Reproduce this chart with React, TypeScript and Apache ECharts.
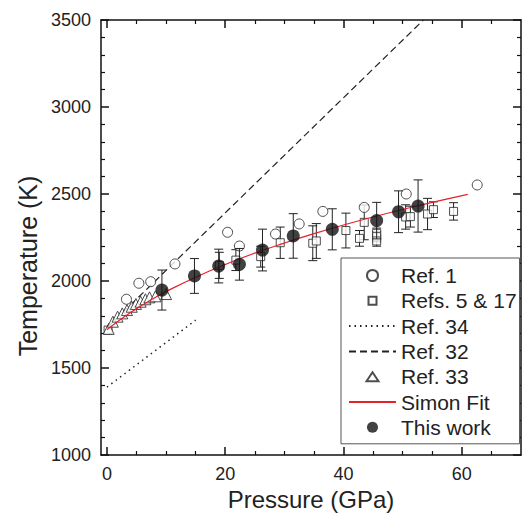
import React, { useEffect, useRef } from "react";
import * as echarts from "echarts";

const FONT = "'Liberation Sans', Arial, Helvetica, sans-serif";

// X ticks
const xMajorTicks = [0, 20, 40, 60];
const xMinorTicks = [5, 10, 15, 25, 30, 35, 45, 50, 55, 65];

// Ref. 1 (open circles)
const ref1P = [3.3, 5.4, 7.4, 11.5, 20.4, 22.4, 28.5, 32.5, 36.5, 43.5, 50.6, 62.6];
const ref1T = [1895, 1987, 1996, 2098, 2280, 2201, 2270, 2328, 2400, 2423, 2500, 2552];

// Refs. 5 & 17 (open squares with error bars)
const refs517P = [0.2, 19.0, 21.8, 26.0, 29.3, 34.8, 35.4, 40.4, 42.7, 43.5, 45.6, 45.6, 45.6, 50.5, 51.3, 54.2, 55.2, 58.6];
const refs517T = [1718, 2090, 2120, 2140, 2220, 2217, 2230, 2290, 2245, 2337, 2274, 2255, 2230, 2368, 2370, 2385, 2410, 2400];
const refs517Err = [0, 75, 60, 60, 90, 100, 100, 100, 45, 100, 30, 30, 30, 70, 60, 90, 45, 50];

// Ref. 34 (dotted line)
const ref34P = [0, 15];
const ref34T = [1390, 1775];

// Ref. 32 (dashed line)
const ref32P = [0, 53.5];
const ref32T = [1730, 3500];

// Ref. 33 (open triangles)
const ref33P = [0.3, 1.0, 1.8, 2.6, 3.4, 4.2, 4.9, 5.7, 6.5, 7.2, 8.2, 10.0];
const ref33T = [1725, 1766, 1795, 1814, 1833, 1852, 1868, 1881, 1895, 1906, 1912, 1925];

// Simon fit
const simonP = [0, 2, 4, 6, 8, 10, 15, 20, 25, 30, 35, 40, 45, 50, 55, 61];
const simonT = [1720, 1772, 1819, 1862, 1902, 1939, 2022, 2095, 2160, 2218, 2272, 2322, 2368, 2411, 2452, 2498];

// This work (filled circles with error bars)
const thisWorkP = [9.3, 14.8, 18.9, 22.4, 26.3, 31.5, 38.1, 45.6, 49.3, 52.6];
const thisWorkT = [1948, 2029, 2086, 2096, 2178, 2259, 2297, 2347, 2398, 2431];
const thisWorkErr = [115, 100, 97, 91, 120, 128, 118, 105, 120, 150];

const squareIcon = "path://M4,-1.5 M4,9.5 M0,0 L8,0 L8,8 L0,8 Z";
const triangleIcon = "path://M6,-1 M6,10 M6,0 L12,9 L0,9 Z";

const legendItems = [
  { name: "Ref. 1" },
  { name: "Refs. 5 & 17", icon: squareIcon },
  { name: "Ref. 34" },
  { name: "Ref. 32" },
  { name: "Ref. 33", icon: triangleIcon },
  { name: "Simon Fit" },
  { name: "This work" },
];

const zip = (a: number[], b: number[]) => a.map((v, i) => [v, b[i]]);
const zip3 = (a: number[], b: number[], c: number[]) => a.map((v, i) => [v, b[i], c[i]]);

const errRender = (params: any, api: any) => {
  const x = api.value(0);
  const y = api.value(1);
  const e = api.value(2);
  if (!e) return { type: "group", children: [] };
  const top = api.coord([x, y + e]);
  const bot = api.coord([x, y - e]);
  const hw = 4.5;
  const style = { stroke: "#222", lineWidth: 1 };
  return {
    type: "group",
    children: [
      { type: "line", shape: { x1: top[0], y1: top[1], x2: bot[0], y2: bot[1] }, style },
      { type: "line", shape: { x1: top[0] - hw, y1: top[1], x2: top[0] + hw, y2: top[1] }, style },
      { type: "line", shape: { x1: bot[0] - hw, y1: bot[1], x2: bot[0] + hw, y2: bot[1] }, style },
    ],
  };
};

const axisColor = "#111";
const noSymbolItem = { color: "rgba(0,0,0,0)", borderWidth: 0 };

export default function App() {
  const ref = useRef<HTMLDivElement>(null);
  useEffect(() => {
    if (!ref.current) return;
    const chart = echarts.init(ref.current, null, { renderer: "svg" });
    const baseX = {
      type: "value",
      min: -1,
      max: 70,
      splitLine: { show: false },
      gridIndex: 0,
    };
    chart.setOption({
      animation: false,
      backgroundColor: "#fff",
      grid: { left: 101, right: 7, top: 20, bottom: 63 },
      xAxis: [
        {
          ...baseX,
          position: "bottom",
          axisLine: { show: true, onZero: false, lineStyle: { color: axisColor, width: 1.5 } },
          axisTick: { show: true, inside: true, length: 8, customValues: xMajorTicks, lineStyle: { color: axisColor, width: 1.5 } },
          axisLabel: { customValues: xMajorTicks, fontSize: 18, color: "#222", margin: 10, fontFamily: FONT },
          name: "Pressure (GPa)",
          nameLocation: "middle",
          nameGap: 32,
          nameTextStyle: { fontSize: 24, color: "#222", fontFamily: FONT },
        },
        {
          ...baseX,
          position: "bottom",
          axisLine: { show: false, onZero: false },
          axisTick: { show: true, inside: true, length: 4, customValues: xMinorTicks, lineStyle: { color: axisColor, width: 1.2 } },
          axisLabel: { show: false },
        },
        {
          ...baseX,
          position: "top",
          axisLine: { show: true, onZero: false, lineStyle: { color: axisColor, width: 1.5 } },
          axisTick: { show: true, inside: true, length: 8, customValues: xMajorTicks, lineStyle: { color: axisColor, width: 1.5 } },
          axisLabel: { show: false },
        },
        {
          ...baseX,
          position: "top",
          axisLine: { show: false, onZero: false },
          axisTick: { show: true, inside: true, length: 4, customValues: xMinorTicks, lineStyle: { color: axisColor, width: 1.2 } },
          axisLabel: { show: false },
        },
      ],
      yAxis: [
        {
          type: "value",
          min: 1000,
          max: 3500,
          interval: 500,
          position: "left",
          axisLine: { show: true, onZero: false, lineStyle: { color: axisColor, width: 1.5 } },
          axisTick: { show: true, inside: true, length: 8, lineStyle: { color: axisColor, width: 1.5 } },
          minorTick: { show: true, splitNumber: 5, length: 4, lineStyle: { color: axisColor, width: 1.2 } },
          axisLabel: { fontSize: 18, color: "#222", margin: 10, fontFamily: FONT, formatter: (v: number) => String(v) },
          splitLine: { show: false },
        },
        {
          type: "value",
          min: 1000,
          max: 3500,
          interval: 500,
          position: "right",
          axisLine: { show: true, onZero: false, lineStyle: { color: axisColor, width: 1.5 } },
          axisTick: { show: true, inside: true, length: 8, lineStyle: { color: axisColor, width: 1.5 } },
          minorTick: { show: true, splitNumber: 5, length: 4, lineStyle: { color: axisColor, width: 1.2 } },
          axisLabel: { show: false },
          splitLine: { show: false },
        },
      ],
      legend: {
        data: legendItems,
        orient: "vertical",
        left: 341,
        top: 258,
        padding: [7, 3, 6, 7],
        itemGap: 4.3,
        itemWidth: 47,
        itemHeight: 11,
        symbolKeepAspect: true,
        borderColor: "#555",
        borderWidth: 1,
        backgroundColor: "#fff",
        textStyle: { fontSize: 21, lineHeight: 21, color: "#222", fontFamily: FONT },
      },
      graphic: [
        {
          type: "text",
          x: 28,
          y: 266,
          rotation: Math.PI / 2,
          style: {
            text: "Temperature (K)",
            font: `25px ${FONT}`,
            fill: "#222",
            textAlign: "center",
            textVerticalAlign: "middle",
          },
        },
      ],
      series: [
        {
          type: "line",
          name: "Ref. 34",
          data: zip(ref34P, ref34T),
          symbol: "none",
          itemStyle: noSymbolItem,
          lineStyle: { color: "#222", width: 1.5, type: [1.5, 4] },
          z: 2,
        },
        {
          type: "line",
          name: "Ref. 32",
          data: zip(ref32P, ref32T),
          symbol: "none",
          itemStyle: noSymbolItem,
          lineStyle: { color: "#222", width: 1.2, type: [7, 4] },
          z: 2,
        },
        {
          type: "custom",
          name: "err517",
          renderItem: errRender,
          data: zip3(refs517P, refs517T, refs517Err),
          encode: { x: 0, y: 1 },
          z: 3,
        },
        {
          type: "scatter",
          name: "Refs. 5 & 17",
          data: zip(refs517P, refs517T),
          symbol: "rect",
          symbolSize: 8,
          itemStyle: { color: "#fff", borderColor: "#222", borderWidth: 1 },
          z: 4,
        },
        {
          type: "scatter",
          name: "Ref. 1",
          data: zip(ref1P, ref1T),
          symbol: "circle",
          symbolSize: 10,
          itemStyle: { color: "#fff", borderColor: "#222", borderWidth: 1 },
          z: 4,
        },
        {
          type: "scatter",
          name: "Ref. 33",
          data: zip(ref33P, ref33T),
          symbol: "triangle",
          symbolSize: 11,
          itemStyle: { color: "#fff", borderColor: "#222", borderWidth: 1 },
          z: 4,
        },
        {
          type: "line",
          name: "Simon Fit",
          data: zip(simonP, simonT),
          symbol: "none",
          smooth: true,
          itemStyle: noSymbolItem,
          lineStyle: { color: "#e8202a", width: 1.2 },
          z: 5,
        },
        {
          type: "custom",
          name: "errThis",
          renderItem: errRender,
          data: zip3(thisWorkP, thisWorkT, thisWorkErr),
          encode: { x: 0, y: 1 },
          z: 6,
        },
        {
          type: "scatter",
          name: "This work",
          data: zip(thisWorkP, thisWorkT),
          symbol: "circle",
          symbolSize: 13,
          itemStyle: { color: "#111" },
          z: 7,
        },
      ],
    });
    return () => chart.dispose();
  }, []);
  return (
    <div
      ref={ref}
      style={{ position: "absolute", left: 0, top: 0, width: 528, height: 518 }}
    />
  );
}
